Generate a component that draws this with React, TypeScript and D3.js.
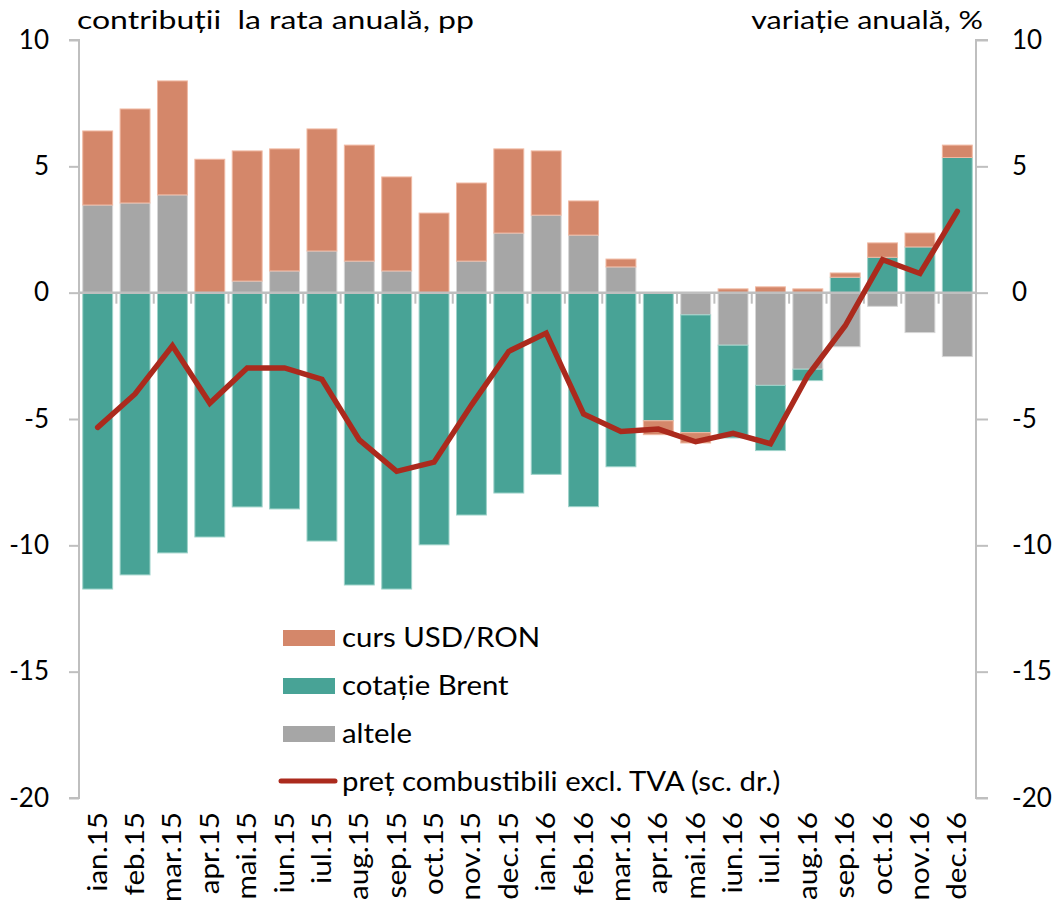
import React, { useEffect, useRef } from 'react';
import * as d3 from 'd3';

const categories = [
  'ian.15', 'feb.15', 'mar.15', 'apr.15', 'mai.15', 'iun.15', 'iul.15', 'aug.15',
  'sep.15', 'oct.15', 'nov.15', 'dec.15', 'ian.16', 'feb.16', 'mar.16', 'apr.16',
  'mai.16', 'iun.16', 'iul.16', 'aug.16', 'sep.16', 'oct.16', 'nov.16', 'dec.16',
];

// contributions, pp
const cursUsdRon = [2.93, 3.72, 4.51, 5.28, 5.15, 4.83, 4.83, 4.59, 3.72, 3.15, 3.09, 3.33,
  2.54, 1.35, 0.31, -0.55, -0.41, 0.15, 0.23, 0.15, 0.17, 0.57, 0.55, 0.49];
const cotatieBrent = [-11.73, -11.17, -10.3, -9.67, -8.48, -8.56, -9.83, -11.57, -11.73, -9.98, -8.8, -7.93,
  -7.19, -8.47, -6.89, -5.07, -4.66, -3.67, -2.58, -0.45, 0.61, 1.4, 1.81, 5.35];
const altele = [3.47, 3.55, 3.87, 0, 0.46, 0.86, 1.65, 1.25, 0.86, 0, 1.25, 2.36,
  3.07, 2.28, 1.02, 0, -0.88, -2.08, -3.67, -3.03, -2.14, -0.54, -1.58, -2.53];

// annual change, % (right axis)
const pretCombustibili = [-5.33, -4.01, -2.1, -4.38, -2.98, -2.98, -3.43, -5.83, -7.07, -6.71, -4.45, -2.32,
  -1.6, -4.8, -5.49, -5.4, -5.9, -5.57, -5.98, -3.28, -1.31, 1.31, 0.76, 3.22];

const yTicks = [10, 5, 0, -5, -10, -15, -20];

const seriesKeys = ['altele', 'brent', 'curs'];
const seriesColors: Record<string, string> = { curs: '#D4876A', brent: '#48A396', altele: '#A6A6A6' };
const seriesStroke: Record<string, string> = { curs: '#F0B9A3', brent: '#9FD3CA', altele: '#D6D6D6' };

const legendItems = [
  { key: 'curs', label: 'curs USD/RON' },
  { key: 'brent', label: 'cotație Brent' },
  { key: 'altele', label: 'altele' },
];

const W = 1056;
const H = 911;
const FONT = 'Lato, "Open Sans", sans-serif';

const App: React.FC = () => {
  const svgRef = useRef<SVGSVGElement>(null);

  useEffect(() => {
    if (!svgRef.current) return;
    const svg = d3.select(svgRef.current);
    svg.selectAll('*').remove();

    const left = 79;
    const right = 976;
    const top = 40;
    const bottom = 798;

    const x = d3.scaleBand<string>().domain(categories).range([left, right]).paddingInner(0.2).paddingOuter(0.1);
    const xBand = d3.scaleBand<string>().domain(categories).range([left, right]);
    const yL = d3.scaleLinear().domain([-20, 10]).range([bottom, top]);
    const yR = d3.scaleLinear().domain([-20, 10]).range([bottom, top]);

    const rows = categories.map((c, i) => ({
      cat: c,
      curs: cursUsdRon[i],
      brent: cotatieBrent[i],
      altele: altele[i],
    }));

    const stacked = d3.stack<any>().keys(seriesKeys).offset(d3.stackOffsetDiverging)(rows);

    // bars
    const barsG = svg.append('g');
    stacked.forEach((s) => {
      barsG.selectAll(null)
        .data(s)
        .enter()
        .append('rect')
        .attr('x', (d: any) => x(d.data.cat) as number)
        .attr('width', x.bandwidth())
        .attr('y', (d: any) => yL(Math.max(d[0], d[1])))
        .attr('height', (d: any) => Math.abs(yL(d[0]) - yL(d[1])))
        .attr('fill', seriesColors[s.key])
        .attr('stroke', seriesStroke[s.key])
        .attr('stroke-width', (d: any) => (Math.abs(d[1] - d[0]) > 0.001 ? 1 : 0));
    });

    const axisColor = '#BFBFBF';
    const fmt = (d: any) => String(d);

    // left axis
    const leftAxis = svg.append('g').attr('transform', `translate(${left},0)`)
      .call(d3.axisLeft(yL).tickValues(yTicks).tickSize(10).tickPadding(20).tickFormat(fmt));
    leftAxis.select('.domain').attr('stroke', axisColor).attr('stroke-width', 2).attr('d', `M-10,${top}H0V${bottom}H-10`);
    leftAxis.selectAll('.tick line').attr('stroke', axisColor).attr('stroke-width', 2);
    leftAxis.selectAll('.tick text').attr('fill', '#000').style('font-family', FONT).style('font-size', '26px');

    // right axis
    const rightAxis = svg.append('g').attr('transform', `translate(${right},0)`)
      .call(d3.axisRight(yR).tickValues(yTicks).tickSize(12).tickPadding(24).tickFormat(fmt));
    rightAxis.select('.domain').attr('stroke', axisColor).attr('stroke-width', 2).attr('d', `M12,${top}H0V${bottom}H12`);
    rightAxis.selectAll('.tick line').attr('stroke', axisColor).attr('stroke-width', 2);
    rightAxis.selectAll('.tick text').attr('fill', '#000').style('font-family', FONT).style('font-size', '26px');

    // zero line with category ticks
    const zeroY = yL(0);
    const xAxis = svg.append('g').attr('transform', `translate(0,${zeroY})`)
      .call(d3.axisBottom(xBand).tickSize(0).tickFormat(() => ''));
    xAxis.select('.domain').attr('stroke', axisColor).attr('stroke-width', 2.5).attr('d', `M${left},0H${right}`);
    xAxis.selectAll('.tick').remove();
    xAxis.selectAll(null)
      .data(categories.slice(1))
      .enter()
      .append('line')
      .attr('x1', (d) => xBand(d) as number)
      .attr('x2', (d) => xBand(d) as number)
      .attr('y1', 0)
      .attr('y2', 11)
      .attr('stroke', axisColor)
      .attr('stroke-width', 2);

    // category labels, rotated (source text looks horizontally stretched)
    svg.append('g')
      .selectAll('text')
      .data(categories)
      .enter()
      .append('text')
      .attr('transform', (d) => `translate(${(xBand(d) as number) + xBand.bandwidth() / 2 + 9},812) rotate(-90) scale(1.14,1)`)
      .attr('text-anchor', 'end')
      .style('font-family', FONT)
      .style('font-size', '26px')
      .attr('fill', '#000')
      .text((d) => d);

    // line series
    const line = d3.line<number>()
      .x((_, i) => (xBand(categories[i]) as number) + xBand.bandwidth() / 2)
      .y((d) => yR(d));
    svg.append('path')
      .datum(pretCombustibili)
      .attr('fill', 'none')
      .attr('stroke', '#AB2A1D')
      .attr('stroke-width', 5.5)
      .attr('stroke-linejoin', 'miter')
      .attr('stroke-linecap', 'round')
      .attr('d', line);

    // titles
    svg.append('text')
      .attr('transform', 'translate(77,29) scale(1.28,1)')
      .style('font-family', FONT)
      .style('font-size', '25px')
      .style('white-space', 'pre')
      .attr('fill', '#000')
      .text('contribuții  la rata anuală, pp');
    svg.append('text')
      .attr('transform', 'translate(983,29) scale(1.22,1)')
      .attr('text-anchor', 'end')
      .style('font-family', FONT)
      .style('font-size', '25px')
      .attr('fill', '#000')
      .text('variație anuală, %');

    // legend
    const legend = svg.append('g').attr('transform', 'translate(283,638)');
    const legendText = (i: number, label: string) =>
      legend.append('text')
        .attr('transform', `translate(59,${i * 48 + 9}) scale(1.13,1)`)
        .style('font-family', FONT)
        .style('font-size', '26px')
        .attr('fill', '#000')
        .text(label);
    legendItems.forEach((item, i) => {
      legend.append('rect')
        .attr('x', 0)
        .attr('y', i * 48 - 8)
        .attr('width', 52)
        .attr('height', 16)
        .attr('fill', seriesColors[item.key]);
      legendText(i, item.label);
    });
    legend.append('line')
      .attr('x1', -2)
      .attr('x2', 52)
      .attr('y1', 3 * 48 - 1)
      .attr('y2', 3 * 48 - 1)
      .attr('stroke', '#AB2A1D')
      .attr('stroke-width', 5)
      .attr('stroke-linecap', 'round');
    legendText(3, 'preț combustibili excl. TVA (sc. dr.)');
  }, []);

  return (
    <svg
      ref={svgRef}
      width={W}
      height={H}
      viewBox={`0 0 ${W} ${H}`}
      style={{ position: 'absolute', left: 0, top: 0, background: '#fff' }}
    />
  );
};

export default App;
